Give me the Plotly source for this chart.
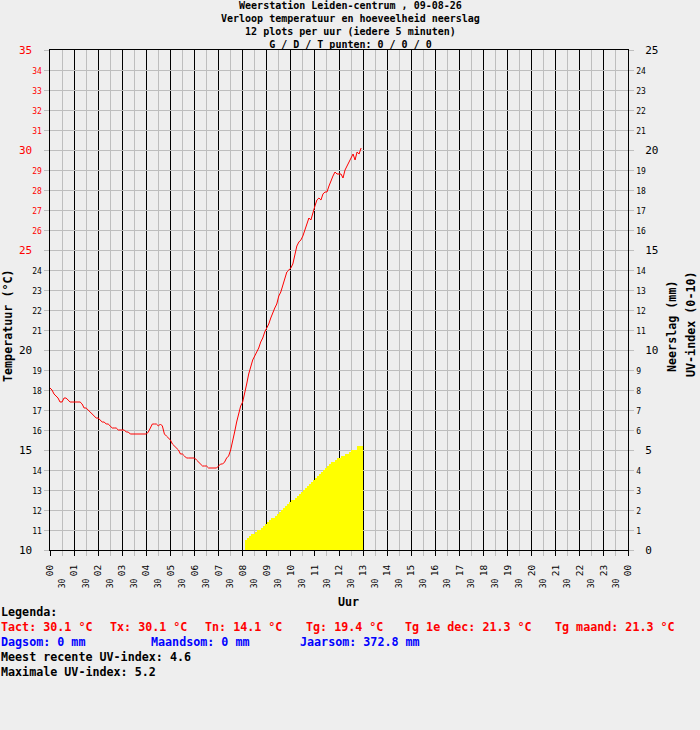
import plotly.graph_objects as go

# temperatuur (°C) per 5 minuten, 12 waarden per uur, vanaf 00:00
temp_00 = [18.1, 18.0, 17.8, 17.7, 17.6, 17.4, 17.4, 17.6, 17.6, 17.5, 17.4, 17.4]
temp_01 = [17.4, 17.4, 17.4, 17.4, 17.3, 17.1, 17.1, 17.0, 16.9, 16.8, 16.7, 16.6]
temp_02 = [16.6, 16.5, 16.4, 16.4, 16.3, 16.3, 16.2, 16.1, 16.1, 16.1, 16.0, 16.0]
temp_03 = [16.0, 16.0, 15.9, 15.9, 15.8, 15.8, 15.8, 15.8, 15.8, 15.8, 15.8, 15.8]
temp_04 = [15.8, 15.9, 16.1, 16.3, 16.3, 16.3, 16.2, 16.3, 16.2, 15.8, 15.7, 15.6]
temp_05 = [15.5, 15.3, 15.2, 15.1, 15.0, 14.8, 14.8, 14.7, 14.6, 14.6, 14.6, 14.6]
temp_06 = [14.6, 14.5, 14.4, 14.3, 14.2, 14.2, 14.2, 14.1, 14.1, 14.1, 14.1, 14.1]
temp_07 = [14.2, 14.3, 14.3, 14.4, 14.6, 14.7, 15.0, 15.4, 15.9, 16.4, 16.8, 17.2]
temp_08 = [17.4, 17.8, 18.3, 18.8, 19.2, 19.5, 19.7, 19.9, 20.1, 20.4, 20.6, 20.9]
temp_09 = [21.1, 21.3, 21.6, 21.9, 22.1, 22.3, 22.7, 22.9, 23.2, 23.6, 23.9, 24.0]
temp_10 = [24.1, 24.3, 24.7, 25.2, 25.4, 25.5, 25.7, 26.0, 26.3, 26.6, 26.5, 26.9]
temp_11 = [27.2, 27.5, 27.6, 27.5, 27.8, 27.9, 27.9, 28.2, 28.5, 28.7, 28.9, 28.8]
temp_12 = [28.8, 28.8, 28.6, 29.0, 29.2, 29.4, 29.6, 29.8, 29.5, 29.9, 29.8, 30.1]
temperatuur = (temp_00 + temp_01 + temp_02 + temp_03 + temp_04 + temp_05 + temp_06
               + temp_07 + temp_08 + temp_09 + temp_10 + temp_11 + temp_12)

# UV-index per 5 minuten, vanaf 08:05
uv_start = 8 + 5 / 60
uv_index = [0.5, 0.6, 0.7, 0.8, 0.8, 0.9, 1.0, 1.0, 1.1, 1.2, 1.3, 1.4,
            1.5, 1.6, 1.6, 1.7, 1.8, 1.9, 2.0, 2.1, 2.2, 2.3, 2.4, 2.5,
            2.5, 2.6, 2.7, 2.8, 2.9, 3.0, 3.1, 3.2, 3.3, 3.4, 3.5, 3.6,
            3.7, 3.8, 3.9, 4.0, 4.1, 4.2, 4.3, 4.4, 4.4, 4.5, 4.6, 4.6,
            4.7, 4.7, 4.8, 4.8, 4.9, 5.0, 5.0, 5.0, 5.2, 5.2, 5.2]

uur_labels = ["00", "01", "02", "03", "04", "05", "06", "07", "08", "09", "10", "11",
              "12", "13", "14", "15", "16", "17", "18", "19", "20", "21", "22", "23", "00"]
half_labels = ["30"] * 24
temp_ticks = list(range(10, 36))
neerslag_ticks = list(range(0, 26))

titel = ["Weerstation Leiden-centrum , 09-08-26",
         "Verloop temperatuur en hoeveelheid neerslag",
         "12 plots per uur (iedere 5 minuten)",
         "G / D / T punten: 0 / 0 / 0"]

BG = "#EEEEEE"
GRIJS = "#BEBEBE"
MONO = "DejaVu Sans Mono"
NB = "\u00a0"

tijd_temp = [i / 12 for i in range(len(temperatuur))]
tijd_uv = [uv_start + i / 12 for i in range(len(uv_index))]
uur_pos = list(range(0, 25))
half_pos = [h + 0.5 for h in range(24)]


def left_label(v):
    kleur = "red" if v >= 25 else "black"
    if v % 5 == 0:
        return f'<span style="font-size:11px;color:{kleur}">{v}</span><span style="font-size:8px">{NB}{NB}</span>'
    return f'<span style="font-size:8px;color:{kleur}">{v}</span>'


def right_label(v):
    if v % 5 == 0:
        return f'<span style="font-size:15px">{NB}</span><span style="font-size:11px">{v}</span>'
    return f'<span style="font-size:8px">{v}</span>'


# pixel -> paper coordinaten (plotvlak 50..628 x 50..550)
def px(x):
    return (x - 50) / 578


def py(y):
    return (550 - y) / 500


fig = go.Figure()
fig.add_trace(go.Scatter(x=tijd_temp, y=temperatuur, mode="lines",
                         line=dict(color="#FF0000", width=1), hoverinfo="skip"))
fig.add_trace(go.Bar(x=tijd_uv, y=uv_index, width=1 / 12, offset=0,
                     marker=dict(color="#FFFF00", line=dict(width=0)),
                     xaxis="x2", yaxis="y2", hoverinfo="skip"))

ann = []
ann.append(dict(text="<b>" + "<br>".join(titel) + "</b>", x=px(350), y=py(25),
                xanchor="center", yanchor="middle", font=dict(size=10)))
ann.append(dict(text="<b>Uur</b>", x=px(348), y=py(602), xanchor="center", yanchor="middle",
                font=dict(size=11.7)))
ann.append(dict(text="<b>Temperatuur (°C)</b>", x=px(8), y=py(326), textangle=-90,
                xanchor="center", yanchor="middle", font=dict(size=11.7)))
ann.append(dict(text="<b>Neerslag (mm)</b>", x=px(672), y=py(327), textangle=-90,
                xanchor="center", yanchor="middle", font=dict(size=11.7)))
ann.append(dict(text="<b>UV-index (0-10)</b>", x=px(691), y=py(324), textangle=-90,
                xanchor="center", yanchor="middle", font=dict(size=11.7)))

legenda = [
    (0, 612, "Legenda:", "black"),
    (0, 627, "Tact: 30.1 °C", "red"), (109, 627, "Tx: 30.1 °C", "red"),
    (204, 627, "Tn: 14.1 °C", "red"), (305, 627, "Tg: 19.4 °C", "red"),
    (404, 627, "Tg 1e dec: 21.3 °C", "red"), (554, 627, "Tg maand: 21.3 °C", "red"),
    (0, 642, "Dagsom: 0 mm", "blue"), (150, 642, "Maandsom: 0 mm", "blue"),
    (299, 642, "Jaarsom: 372.8 mm", "blue"),
    (0, 657, "Meest recente UV-index: 4.6", "black"),
    (0, 672, "Maximale UV-index: 5.2", "black"),
]
for lx, ly, tekst, kleur in legenda:
    ann.append(dict(text=f"<b>{tekst}</b>", x=px(lx), y=py(ly), xanchor="left", yanchor="middle",
                    font=dict(size=11.7, color=kleur), borderpad=0))

for a in ann:
    a.update(xref="paper", yref="paper", showarrow=False)

fig.update_layout(
    width=700, height=730,
    margin=dict(l=50, r=72, t=50, b=180, autoexpand=False),
    paper_bgcolor=BG, plot_bgcolor=BG,
    showlegend=False,
    font=dict(family=MONO, size=11, color="black"),
    annotations=ann,
    xaxis=dict(range=[0, 24], tickmode="array", tickvals=uur_pos, ticktext=uur_labels,
               tickangle=-90, tickfont=dict(size=9.5), ticklabelstandoff=5,
               ticks="outside", ticklen=5, tickcolor="black",
               showgrid=True, gridcolor="black", gridwidth=1, zeroline=False,
               showline=True, linecolor="black", linewidth=1, mirror=True,
               minor=dict(tickmode="array", tickvals=half_pos, ticks="outside", ticklen=5,
                          tickcolor=GRIJS, showgrid=True, gridcolor=GRIJS, gridwidth=1),
               fixedrange=True),
    xaxis2=dict(overlaying="x", anchor="y", side="bottom", range=[0, 24],
                tickmode="array", tickvals=half_pos, ticktext=half_labels,
                tickangle=-90, tickfont=dict(size=8), ticklabelstandoff=26,
                ticks="", showgrid=False, zeroline=False, showline=False, fixedrange=True),
    yaxis=dict(range=[10, 35], tickmode="array", tickvals=temp_ticks,
               ticktext=[left_label(v) for v in temp_ticks],
               ticks="outside", ticklen=5, tickcolor=GRIJS,
               showgrid=True, gridcolor=GRIJS, gridwidth=1, zeroline=False,
               showline=True, linecolor="black", linewidth=1, mirror=True, fixedrange=True),
    yaxis2=dict(overlaying="y", side="right", anchor="x", range=[0, 25], tickmode="array",
                tickvals=neerslag_ticks, ticktext=[right_label(v) for v in neerslag_ticks],
                ticks="outside", ticklen=5, tickcolor=GRIJS,
                showgrid=False, zeroline=False, showline=False,
                minor=dict(tickmode="array", tickvals=[0, 5, 10, 15, 20, 25], ticks="",
                           showgrid=True, gridcolor="black", gridwidth=1),
                fixedrange=True),
    bargap=0,
)

# pagina zonder witte rand, zodat de figuur op (0, 0) staat
fig.write_html("out.html", config={"displayModeBar": False},
               post_script="document.body.style.margin='0';"
                           "document.body.style.backgroundColor='#EEEEEE';")
